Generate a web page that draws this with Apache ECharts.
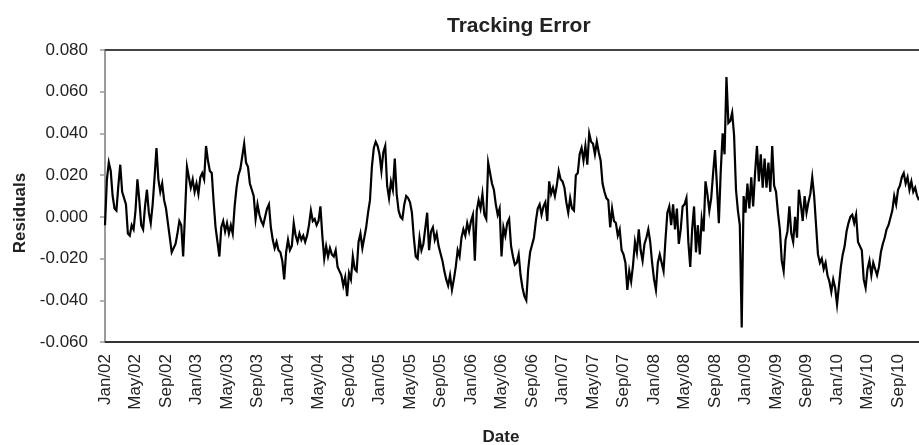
<!DOCTYPE html>
<html>
<head>
<meta charset="utf-8">
<script src="https://cdn.jsdelivr.net/npm/echarts@6/dist/echarts.min.js"></script>
<style>
  html, body { margin: 0; padding: 0; background: #fff; }
  #chart { width: 919px; height: 445px; }
</style>
</head>
<body>
<div id="chart"></div>
<script>
// residuals, 4 readings per month (roughly weekly), starting Jan 2002
var r2002 = [
  -0.004, 0.018, 0.026, 0.022,   0.010, 0.004, 0.003, 0.015,   0.025, 0.012, 0.009, 0.006,
  -0.008, -0.009, -0.004, -0.006, 0.003, 0.018, 0.008, -0.004,  -0.006, 0.005, 0.013, 0.002,
  -0.003, 0.006, 0.019, 0.033,   0.018, 0.012, 0.016, 0.008,   0.004, -0.003, -0.010, -0.017,
  -0.015, -0.013, -0.008, -0.002, -0.004, -0.019, 0.002, 0.024,  0.019, 0.014, 0.018, 0.012
];
var r2003 = [
  0.016, 0.011, 0.019, 0.021,    0.018, 0.034, 0.027, 0.022,   0.021, 0.007, -0.005, -0.012,
  -0.019, -0.005, -0.002, -0.007, -0.003, -0.008, -0.004, -0.008, 0.005, 0.014, 0.020, 0.023,
  0.029, 0.035, 0.026, 0.024,    0.016, 0.013, 0.010, -0.001,  0.006, 0.001, -0.002, -0.004,
  0.000, 0.004, 0.006, -0.005,   -0.011, -0.015, -0.012, -0.016, -0.017, -0.021, -0.030, -0.017
];
var r2004 = [
  -0.011, -0.016, -0.014, -0.003, -0.009, -0.012, -0.008, -0.011, -0.009, -0.012, -0.009, -0.004,
  0.003, -0.002, -0.001, -0.004,  -0.002, 0.005, -0.009, -0.020,  -0.014, -0.019, -0.015, -0.018,
  -0.019, -0.016, -0.024, -0.026, -0.028, -0.033, -0.029, -0.038, -0.027, -0.030, -0.019, -0.025,
  -0.026, -0.012, -0.008, -0.015, -0.010, -0.005, 0.002, 0.008,   0.024, 0.033, 0.036, 0.034
];
var r2005 = [
  0.030, 0.022, 0.031, 0.034,    0.015, 0.009, 0.017, 0.013,   0.028, 0.011, 0.003, 0.000,
  -0.001, 0.006, 0.010, 0.009,   0.007, 0.002, -0.010, -0.019,  -0.020, -0.010, -0.016, -0.013,
  -0.013, 0.002, -0.016, -0.007, -0.005, -0.011, -0.008, -0.014, -0.014, -0.021, -0.026, -0.030,
  -0.033, -0.028, -0.035, -0.030, -0.024, -0.016, -0.019, -0.010, -0.006, -0.009, -0.003, -0.007
];
var r2006 = [
  -0.002, 0.001, -0.021, 0.003,  0.008, 0.004, 0.011, 0.001,   -0.001, 0.026, 0.021, 0.016,
  0.013, 0.006, 0.001, 0.004,    -0.019, -0.005, -0.009, -0.003, -0.001, -0.014, -0.019, -0.023,
  -0.022, -0.018, -0.028, -0.034, -0.038, -0.040, -0.025, -0.017, -0.017, -0.010, -0.002, 0.004,
  0.006, 0.001, 0.005, 0.007,    -0.002, 0.017, 0.011, 0.014,   0.010, 0.015, 0.022, 0.018
];
var r2007 = [
  0.017, 0.014, 0.007, 0.002,    0.009, 0.004, 0.003, 0.020,   0.021, 0.030, 0.033, 0.027,
  0.034, 0.025, 0.040, 0.036,    0.035, 0.030, 0.036, 0.031,   0.027, 0.016, 0.012, 0.009,
  0.008, -0.005, 0.004, -0.002,  -0.003, -0.009, -0.006, -0.016, -0.018, -0.022, -0.035, -0.026,
  -0.031, -0.023, -0.012, -0.017, -0.006, -0.016, -0.021, -0.013, -0.010, -0.006, -0.012, -0.022
];
var r2008 = [
  -0.030, -0.035, -0.022, -0.018, -0.018, -0.026, -0.011, 0.002, 0.005, -0.004, 0.006, -0.006,
  0.004, -0.013, -0.006, 0.005,  0.006, 0.009, -0.012, -0.024,  -0.006, 0.005, -0.017, -0.004,
  -0.018, -0.001, -0.007, 0.017, 0.011, 0.003, 0.009, 0.021,    0.032, 0.015, -0.003, 0.022,
  0.040, 0.030, 0.067, 0.045,    0.046, 0.050, 0.039, 0.013,   0.003, -0.004, -0.053, 0.010
];
var r2009 = [
  0.002, 0.016, 0.004, 0.019,    0.005, 0.021, 0.034, 0.017,   0.030, 0.014, 0.028, 0.014,
  0.026, 0.012, 0.034, 0.015,    0.012, 0.002, -0.006, -0.021,  -0.026, -0.011, -0.007, 0.005,
  -0.008, -0.012, 0.000, -0.010, 0.013, 0.006, -0.002, 0.010,   0.002, 0.007, 0.011, 0.019,
  0.010, -0.004, -0.018, -0.022, -0.020, -0.025, -0.022, -0.028, -0.031, -0.036, -0.030, -0.034
];
var r2010 = [
  -0.042, -0.033, -0.024, -0.018, -0.014, -0.007, -0.003, 0.000, 0.001, -0.003, 0.001, -0.012,
  -0.012, -0.016, -0.030, -0.034, -0.025, -0.021, -0.028, -0.022, -0.022, -0.028, -0.024, -0.017,
  -0.013, -0.010, -0.006, -0.004, -0.004, 0.003, 0.010, 0.006,  0.013, 0.015, 0.019, 0.021,
  0.016, 0.019, 0.013, 0.017,    0.012, 0.014, 0.010, 0.008
];

var xLabels = [
  'Jan/02', 'May/02', 'Sep/02', 'Jan/03', 'May/03', 'Sep/03', 'Jan/04', 'May/04', 'Sep/04',
  'Jan/05', 'May/05', 'Sep/05', 'Jan/06', 'May/06', 'Sep/06', 'Jan/07', 'May/07', 'Sep/07',
  'Jan/08', 'May/08', 'Sep/08', 'Jan/09', 'May/09', 'Sep/09', 'Jan/10', 'May/10', 'Sep/10'
];

var values = [].concat(r2002, r2003, r2004, r2005, r2006, r2007, r2008, r2009, r2010);
// x is months since Jan 2002, one reading every quarter month
var points = values.map(function (v, i) { return [i * 0.25, v]; });
var lastMonth = (values.length - 1) * 0.25;

var font = '"Liberation Sans", Arial, sans-serif';

var myChart = echarts.init(document.getElementById('chart'));
myChart.setOption({
  animation: false,
  backgroundColor: '#fff',
  title: {
    text: 'Tracking Error',
    left: 442,
    top: 11,
    textStyle: { fontFamily: font, fontSize: 21, fontWeight: 'bold', color: '#222' }
  },
  grid: { left: 105, right: 0, top: 50, bottom: 103 },
  xAxis: [{
    type: 'value',
    min: 0,
    max: lastMonth,
    interval: 4,
    splitLine: { show: false },
    axisTick: { show: false },
    axisLine: { onZero: false, lineStyle: { color: '#333', width: 2 } },
    axisLabel: {
      rotate: 90,
      margin: 12,
      showMaxLabel: false,
      fontFamily: font,
      fontSize: 17,
      color: '#222',
      formatter: function (v) {
        var l = xLabels[Math.round(v / 4)];
        return l === undefined ? '' : l;
      }
    }
  }, {
    type: 'value',
    position: 'top',
    min: 0,
    max: lastMonth,
    splitLine: { show: false },
    axisTick: { show: false },
    axisLabel: { show: false },
    axisLine: { show: true, onZero: false, lineStyle: { color: '#444', width: 2 } }
  }],
  yAxis: {
    type: 'value',
    min: -0.06,
    max: 0.08,
    interval: 0.02,
    splitLine: { show: false },
    axisLine: { show: true, lineStyle: { color: '#9a9a9a', width: 2 } },
    axisTick: { show: true, length: 5, lineStyle: { color: '#9a9a9a', width: 1.5 } },
    axisLabel: {
      margin: 17,
      fontFamily: font,
      fontSize: 17,
      color: '#222',
      formatter: function (v) { return v.toFixed(3); }
    }
  },
  graphic: [{
    type: 'text',
    x: 501,
    y: 437,
    style: { text: 'Date', font: 'bold 17px ' + font, fill: '#222', align: 'center', verticalAlign: 'middle' }
  }, {
    type: 'text',
    x: 20,
    y: 213,
    rotation: Math.PI / 2,
    style: { text: 'Residuals', font: 'bold 17px ' + font, fill: '#222', align: 'center', verticalAlign: 'middle' }
  }],
  series: [{
    name: 'Residuals',
    type: 'line',
    data: points,
    showSymbol: false,
    symbol: 'none',
    lineStyle: { color: '#000', width: 2.2, join: 'miter' }
  }]
});
</script>
</body>
</html>
